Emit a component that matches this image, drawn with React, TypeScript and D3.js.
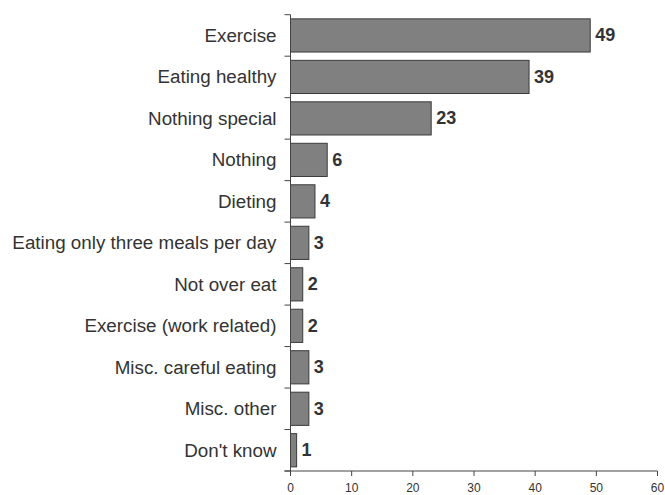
import React from "react";
import * as d3 from "d3";

const categories = [
  "Exercise",
  "Eating healthy",
  "Nothing special",
  "Nothing",
  "Dieting",
  "Eating only three meals per day",
  "Not over eat",
  "Exercise (work related)",
  "Misc. careful eating",
  "Misc. other",
  "Don't know",
];
const values = [49, 39, 23, 6, 4, 3, 2, 2, 3, 3, 1];
const xTicks = [0, 10, 20, 30, 40, 50, 60];

const W = 665;
const H = 495;
const left = 290.5;
const right = 657.5;
const top = 14.7;
const bottom = 471;

export default function App() {
  const x = d3.scaleLinear().domain([0, 60]).range([left, right]);
  const y = d3
    .scaleBand<string>()
    .domain(categories)
    .range([top, bottom])
    .paddingInner(0.2)
    .paddingOuter(0.1);
  const boundaries = d3.range(categories.length + 1).map((i) => top + i * ((bottom - top) / categories.length));
  const txt = "#333333";
  return (
    <svg
      width={W}
      height={H}
      style={{ position: "absolute", left: 0, top: 0, display: "block" }}
      fontFamily="'Liberation Sans', Arial, sans-serif"
    >
      <rect width={W} height={H} fill="#ffffff" />
      {categories.map((c, i) => {
        const y0 = y(c)!;
        const bw = y.bandwidth();
        return (
          <g key={c}>
            <rect
              x={x(0)}
              y={y0}
              width={x(values[i]) - x(0)}
              height={bw}
              fill="#808080"
              stroke="#3a3a3a"
              strokeWidth={1}
            />
            <text
              x={x(values[i]) + 5}
              y={y0 + bw / 2}
              dominantBaseline="central"
              fontSize={18}
              fontWeight="bold"
              fill={txt}
            >
              {values[i]}
            </text>
            <text
              x={left - 14}
              y={y0 + bw / 2}
              dominantBaseline="central"
              textAnchor="end"
              fontSize={18.8}
              fill={txt}
            >
              {c}
            </text>
          </g>
        );
      })}
      {/* y axis */}
      <line x1={left} x2={left} y1={top} y2={bottom + 5} stroke="#444" strokeWidth={1} />
      {boundaries.map((b, i) => (
        <line key={i} x1={left - 6} x2={left} y1={b} y2={b} stroke="#444" strokeWidth={1} />
      ))}
      {/* x axis */}
      <line x1={left - 6} x2={right} y1={bottom} y2={bottom} stroke="#444" strokeWidth={1} />
      {xTicks.map((t) => (
        <g key={t}>
          <line x1={x(t)} x2={x(t)} y1={bottom} y2={bottom + 5} stroke="#444" strokeWidth={1} />
          <text x={x(t)} y={492} textAnchor="middle" fontSize={12} fill={txt}>
            {t}
          </text>
        </g>
      ))}
    </svg>
  );
}
